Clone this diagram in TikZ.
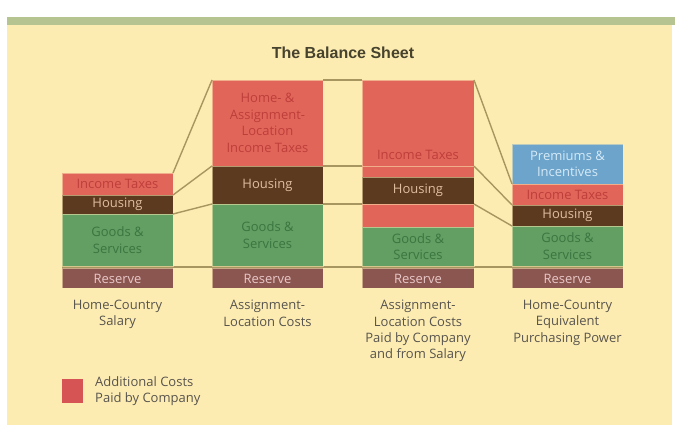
\documentclass[tikz,border=0pt]{standalone}
\usepackage{fontspec}
\setmainfont{Open Sans}
\newfontfamily\titlefont{Liberation Sans}
\definecolor{bgcream}{RGB}{253,236,178}
\definecolor{bandgreen}{RGB}{181,196,144}
\definecolor{redc}{RGB}{226,101,90}
\definecolor{redtxt}{RGB}{190,62,58}
\definecolor{brownc}{RGB}{92,58,32}
\definecolor{browntxt}{RGB}{222,190,158}
\definecolor{greenc}{RGB}{99,158,99}
\definecolor{greentxt}{RGB}{58,118,64}
\definecolor{reservec}{RGB}{140,86,80}
\definecolor{reservetxt}{RGB}{232,200,200}
\definecolor{bluec}{RGB}{108,164,204}
\definecolor{bluetxt}{RGB}{214,234,246}
\definecolor{linec}{RGB}{168,150,96}
\definecolor{labeltxt}{RGB}{88,84,78}
\definecolor{legendred}{RGB}{214,84,84}
\begin{document}
\begin{tikzpicture}[x=1pt,y=-1pt,
  seg/.style={rectangle,inner sep=0pt,outer sep=0pt,anchor=north west,
    minimum width=111pt,draw=bgcream,draw opacity=0.55,line width=0.8pt},
  segtext/.style={align=center,inner sep=0pt,font=\fontsize{13}{16.5}\selectfont},
  conn/.style={draw=linec,line width=1.4pt},
  collabel/.style={align=center,anchor=north,inner sep=0pt,text=labeltxt,
    font=\fontsize{13}{16.3}\selectfont}]
\useasboundingbox (0,0) rectangle (675,427);
% background
\fill[bgcream] (7,17) rectangle (672,425);
\fill[bandgreen] (7,17) rectangle (675,25);
% title
\node[font=\titlefont\bfseries\fontsize{16}{18}\selectfont,text={rgb,255:red,70;green,66;blue,45}] (title) at (343,53) {The Balance Sheet};

% coordinates of the reserve line
\coordinate (rl1) at (62,267);
\coordinate (rl2) at (623,267);
\draw[conn] (rl1) -- (rl2);

% column 1
\node[seg,fill=redc,minimum height=22pt] (c1t) at (62,173) {};
\node[seg,fill=brownc,minimum height=19pt] (c1h) at (62,195) {};
\node[seg,fill=greenc,minimum height=52pt] (c1g) at (62,214) {};
\node[seg,fill=reservec,minimum height=20pt] (c1r) at (62,268.5) {};
% column 2
\node[seg,fill=redc,minimum height=86pt] (c2t) at (212,80) {};
\node[seg,fill=brownc,minimum height=38pt] (c2h) at (212,166) {};
\node[seg,fill=greenc,minimum height=62pt] (c2g) at (212,204) {};
\node[seg,fill=reservec,minimum height=20pt] (c2r) at (212,268.5) {};
% column 3
\node[seg,fill=redc,minimum height=86pt,minimum width=112pt] (c3t) at (362,80) {};
\node[seg,fill=redc,minimum height=11pt,minimum width=112pt] (c3u) at (362,166) {};
\node[seg,fill=brownc,minimum height=27pt,minimum width=112pt] (c3h) at (362,177) {};
\node[seg,fill=redc,minimum height=23pt,minimum width=112pt] (c3x) at (362,204) {};
\node[seg,fill=greenc,minimum height=39pt,minimum width=112pt] (c3g) at (362,227) {};
\node[seg,fill=reservec,minimum height=20pt,minimum width=112pt] (c3r) at (362,268.5) {};
% column 4
\node[seg,fill=bluec,minimum height=40pt] (c4p) at (512,144) {};
\node[seg,fill=redc,minimum height=21pt] (c4t) at (512,184) {};
\node[seg,fill=brownc,minimum height=21pt] (c4h) at (512,205) {};
\node[seg,fill=greenc,minimum height=40pt] (c4g) at (512,226) {};
\node[seg,fill=reservec,minimum height=20pt] (c4r) at (512,268.5) {};

% connectors
\draw[conn] (c1t.north east) -- (c2t.north west);
\draw[conn] (c1h.north east) -- (c2h.north west);
\draw[conn] (c1g.north east) -- (c2g.north west);
\draw[conn] (c2t.north east) -- (c3t.north west);
\draw[conn] (c2h.north east) -- (c3u.north west);
\draw[conn] (c2g.north east) -- (c3x.north west);
\draw[conn] (c3t.north east) -- (c4t.north west);
\draw[conn] (c3u.north east) -- (c4h.north west);
\draw[conn] (c3x.north east) -- (c4g.north west);

% texts in column 1
\node[segtext,text=redtxt] (t1t) at (c1t.center) {Income Taxes};
\node[segtext,text=browntxt] (t1h) at (c1h.center) {Housing};
\node[segtext,text=greentxt] (t1g) at (c1g.center) {Goods \&\\Services};
\node[segtext,text=reservetxt] (t1r) at (c1r.center) {Reserve};
% column 2
\node[segtext,text=redtxt] (t2t) at (c2t.center) {Home- \&\\Assignment-\\Location\\Income Taxes};
\node[segtext,text=browntxt] (t2h) at (c2h.center) {Housing};
\node[segtext,text=greentxt] (t2g) at (c2g.center) {Goods \&\\Services};
\node[segtext,text=reservetxt] (t2r) at (c2r.center) {Reserve};
% column 3
\node[segtext,text=redtxt] (t3t) at (418,155) {Income Taxes};
\node[segtext,text=browntxt] (t3h) at (c3h.center) {Housing};
\node[segtext,text=greentxt] (t3g) at (c3g.center) {Goods \&\\Services};
\node[segtext,text=reservetxt] (t3r) at (c3r.center) {Reserve};
% column 4
\node[segtext,text=bluetxt] (t4p) at (c4p.center) {Premiums \&\\Incentives};
\node[segtext,text=redtxt] (t4t) at (c4t.center) {Income Taxes};
\node[segtext,text=browntxt] (t4h) at (c4h.center) {Housing};
\node[segtext,text=greentxt] (t4g) at (c4g.center) {Goods \&\\Services};
\node[segtext,text=reservetxt] (t4r) at (c4r.center) {Reserve};

% column labels
\node[collabel] (l1) at (117.5,300) {Home-Country\\Salary};
\node[collabel] (l2) at (267.5,300) {Assignment-\\Location Costs};
\node[collabel] (l3) at (418,300) {Assignment-\\Location Costs\\Paid by Company\\and from Salary};
\node[collabel] (l4) at (567.5,300) {Home-Country\\Equivalent\\Purchasing Power};

% legend
\node[rectangle,fill=legendred,minimum width=21pt,minimum height=24pt,inner sep=0pt,anchor=north west] (legbox) at (62,379) {};
\node[align=left,anchor=north west,inner sep=0pt,text=labeltxt,font=\fontsize{13}{16.3}\selectfont] (legtext) at (95,376) {Additional Costs\\Paid by Company};
\end{tikzpicture}
\end{document}
